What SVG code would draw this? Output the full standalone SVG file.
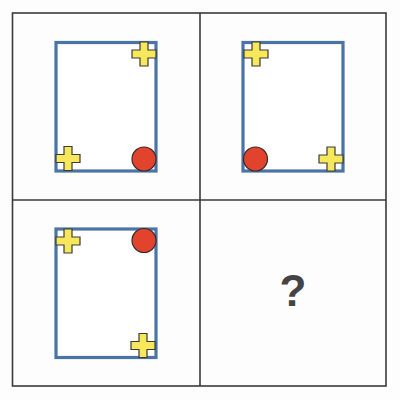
<svg xmlns="http://www.w3.org/2000/svg" xmlns:xlink="http://www.w3.org/1999/xlink" width="400" height="400" viewBox="0 0 400 400">
<style>
.frame{fill:none;stroke:#3a3a3a;stroke-width:1.6}
.card{fill:#ffffff;stroke:#4a74a6;stroke-width:3.2}
.plus{fill:#f6e85a;stroke:#3a3a3a;stroke-width:1.2}
.dot{fill:#e2432d;stroke:#3a2a2a;stroke-width:1.2}
.q{font-family:"Liberation Sans",Arial,sans-serif;font-weight:bold;font-size:44px;fill:#444444}
</style>
<defs>
<path id="plus" d="M-4,-12 H4 V-4 H12 V4 H4 V12 H-4 V4 H-12 V-4 H-4 Z"/>
</defs>
<rect width="400" height="400" fill="#fdfdfd"/>
<g id="grid">
<rect class="frame" x="12.5" y="13" width="373.5" height="373"/>
<line class="frame" x1="200" y1="13" x2="200" y2="386"/>
<line class="frame" x1="12.5" y1="200" x2="386" y2="200"/>
</g>
<g id="panel1">
<rect class="card" x="56" y="42.5" width="100" height="128.5"/>
<use href="#plus" class="plus" x="144" y="54"/>
<use href="#plus" class="plus" x="68" y="158.5"/>
<circle class="dot" cx="144" cy="159" r="12"/>
</g>
<g id="panel2">
<rect class="card" x="243" y="42.5" width="100" height="128.5"/>
<use href="#plus" class="plus" x="256" y="54"/>
<circle class="dot" cx="255.5" cy="159" r="12"/>
<use href="#plus" class="plus" x="331" y="159"/>
</g>
<g id="panel3">
<rect class="card" x="56" y="229" width="100" height="128.5"/>
<use href="#plus" class="plus" x="68" y="241"/>
<circle class="dot" cx="144" cy="240.5" r="12"/>
<use href="#plus" class="plus" x="143" y="345.5"/>
</g>
<g id="panel4">
<text class="q" x="293" y="306" text-anchor="middle">?</text>
</g>
</svg>
